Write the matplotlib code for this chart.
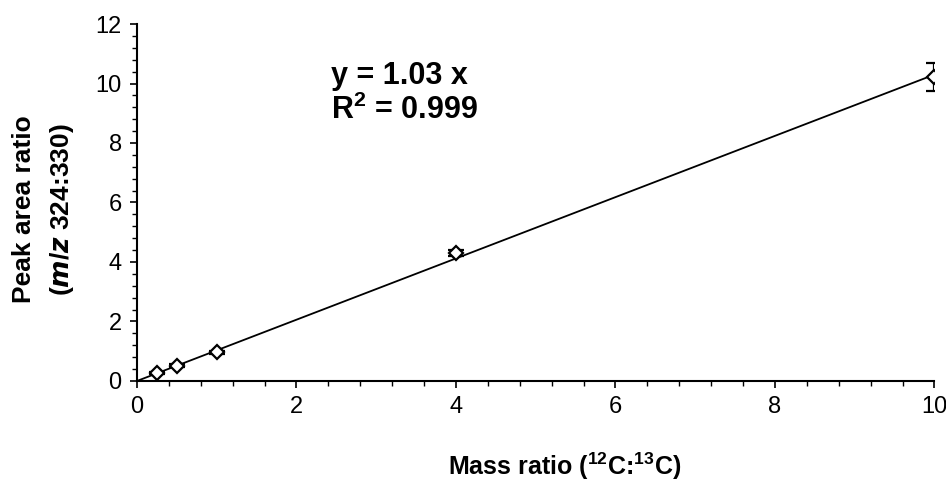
import matplotlib.pyplot as plt
from matplotlib.ticker import MultipleLocator
import numpy as np

plt.rcParams['font.family'] = ['Liberation Sans', 'DejaVu Sans']
plt.rcParams['mathtext.fontset'] = 'custom'
plt.rcParams['mathtext.bf'] = 'Liberation Sans:bold'
plt.rcParams['mathtext.rm'] = 'Liberation Sans'
plt.rcParams['mathtext.it'] = 'Liberation Sans:italic'

# data
mass_ratio = [0.25, 0.5, 1.0, 4.0, 10.0]
peak_ratio = [0.27, 0.52, 0.97, 4.30, 10.22]
peak_err = [0.03, 0.04, 0.05, 0.10, 0.48]
slope = 1.03
r2 = 0.999

fig = plt.figure(figsize=(9.46, 4.87), dpi=100)
ax = fig.add_axes([0.1448, 0.2177, 0.843, 0.733])

# fitted line
xs = np.array([0, 10])
ax.plot(xs, slope * xs, color='black', linewidth=1.3, zorder=2)

ax.errorbar(mass_ratio, peak_ratio, yerr=peak_err, fmt='D', ms=7.5,
            mfc='white', mec='black', mew=1.6, ecolor='black',
            elinewidth=1.6, capsize=6, capthick=1.8, zorder=3)

ax.set_xlim(0, 10)
ax.set_ylim(0, 12)
ax.xaxis.set_major_locator(MultipleLocator(2))
ax.xaxis.set_minor_locator(MultipleLocator(0.4))
ax.yaxis.set_major_locator(MultipleLocator(2))
ax.yaxis.set_minor_locator(MultipleLocator(0.4))
ax.tick_params(which='major', direction='out', length=5, width=1.2,
               labelsize=17, pad=6)
ax.tick_params(which='minor', direction='out', length=3.5, width=1)

for s in ['top', 'right']:
    ax.spines[s].set_visible(False)
for s in ['left', 'bottom']:
    ax.spines[s].set_linewidth(1.5)

ax.text(2.43, 10.25, 'y = %.2f x' % slope, fontsize=22, fontweight='bold',
        ha='left', va='center')
ax.text(2.43, 9.1, 'R$^{\\mathbf{2}}$ = %.3f' % r2, fontsize=22,
        fontweight='bold', ha='left', va='center')

fig.text(0.597, 0.042, 'Mass ratio ($^{\\mathbf{12}}$C:$^{\\mathbf{13}}$C)',
         fontsize=18, fontweight='bold', ha='center', va='center')
fig.text(0.025, 0.57, 'Peak area ratio', fontsize=19, fontweight='bold',
         rotation=90, ha='center', va='center')
fig.text(0.066, 0.57, '($\\boldsymbol{m/z}$ 324:330)', fontsize=19,
         fontweight='bold', rotation=90, ha='center', va='center')

fig.savefig('out.png', dpi=100)
